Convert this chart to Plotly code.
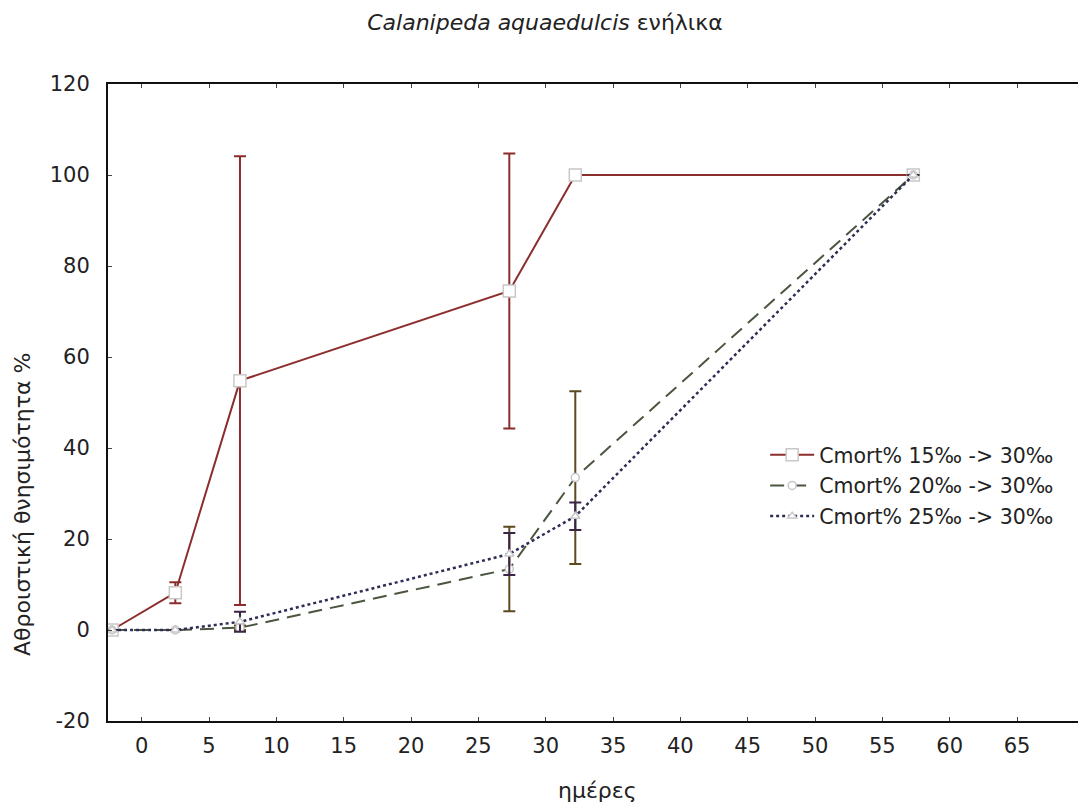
import plotly.graph_objects as go

days = [-2.2, 2.5, 7.3, 27.3, 32.2, 57.3]
names = ["Cmort% 15‰ -> 30‰", "Cmort% 20‰ -> 30‰", "Cmort% 25‰ -> 30‰"]
mort15 = [0, 8.2, 54.8, 74.5, 100, 100]
err15 = [0, 2.3, 49.3, 30.2, 0, 0]
mort20 = [0, 0, 0.5, 13.4, 33.5, 100]
err20 = [0, 0, 0.5, 9.3, 19.0, 0]
mort25 = [0, 0, 1.8, 16.7, 25.0, 100]
err25 = [0, 0, 2.2, 4.6, 3.0, 0]
xticks = list(range(0, 70, 5))
yticks = list(range(-20, 121, 20))

font = "DejaVu Sans, Liberation Sans, sans-serif"

W, H = 1078, 798  # page body has an 8px margin
fig = go.Figure()
fig.add_trace(go.Scatter(
    x=days, y=mort15, name=names[0], mode="lines+markers", legendgroup="a",
    line=dict(color="#8c2d2d", width=2),
    marker=dict(symbol="square", size=12, color="white", line=dict(color="#c8c8c8", width=1.5)),
    error_y=dict(type="data", array=err15, color="#8c2d2d", thickness=2, width=6),
))
fig.add_trace(go.Scatter(
    x=days, y=mort20, name=names[1], mode="lines+markers", legendgroup="b",
    line=dict(color="#4b5640", width=2, dash="14px,8px"),
    marker=dict(symbol="circle", size=8, color="white", line=dict(color="#c8c8c8", width=1.5)),
    error_y=dict(type="data", array=err20, color="#5c4a1e", thickness=2, width=6),
))
fig.add_trace(go.Scatter(
    x=days, y=mort25, name=names[2], mode="lines+markers", legendgroup="c",
    line=dict(color="#2d2d55", width=2.5, dash="dot"),
    marker=dict(symbol="triangle-up", size=8, color="white", line=dict(color="#c8c8c8", width=1.5)),
    error_y=dict(type="data", array=err25, color="#3b2545", thickness=2, width=6),
))

fig.update_layout(
    width=W, height=H,
    paper_bgcolor="white", plot_bgcolor="white",
    margin=dict(l=100, r=3, t=76, b=85),
    font=dict(family=font, size=21, color="#222"),
    title=dict(text="<i>Calanipeda aquaedulcis</i> ενήλικα", x=537 / W, xanchor="center",
               y=1 - 14 / H, yanchor="middle", font=dict(family=font, size=22, color="#222")),
    legend=dict(x=0.674, y=0.449, xanchor="left", yanchor="top", bgcolor="rgba(0,0,0,0)",
                font=dict(family=font, size=20.5, color="#222"), tracegroupgap=1,
                traceorder="grouped", itemwidth=44),
    showlegend=True,
    annotations=[
        dict(text="Αθροιστική θνησιμότητα %", xref="paper", yref="paper",
             x=-86 / 975, y=(721 - 505) / 637, xanchor="center", yanchor="middle",
             textangle=-90, showarrow=False, font=dict(family=font, size=22, color="#222")),
        dict(text="ημέρες", xref="paper", yref="paper",
             x=(597 - 108) / 975, y=-(790 - 721) / 637, xanchor="center", yanchor="middle",
             showarrow=False, font=dict(family=font, size=22, color="#222")),
    ],
)
fig.update_xaxes(
    range=[-2.5, 69.9], tickvals=xticks, ticktext=[str(v) for v in xticks],
    ticks="inside", ticklen=4, tickcolor="#444",
    showline=True, linecolor="#111", linewidth=2, mirror="allticks", showgrid=False,
    zeroline=False, ticklabelstandoff=5, automargin=False,
)
fig.update_yaxes(
    range=[-20, 120], tickvals=yticks, ticktext=[str(v) for v in yticks],
    ticks="inside", ticklen=4, tickcolor="#444",
    showline=True, linecolor="#111", linewidth=2, mirror="allticks", showgrid=False,
    zeroline=False, ticklabelstandoff=12, automargin=False,
)

fig.write_html("out.html")
